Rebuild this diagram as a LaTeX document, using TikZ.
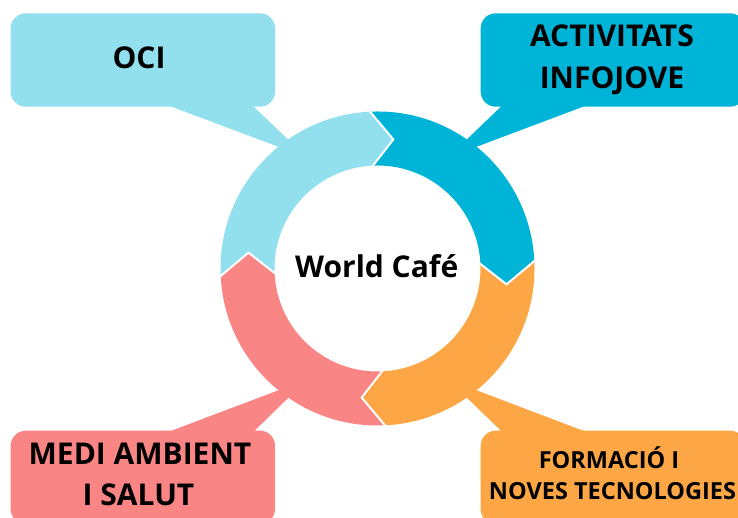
\documentclass[tikz,border=0pt]{standalone}
\usepackage{fontspec}
\setmainfont{Open Sans}
\usetikzlibrary{calc}
\definecolor{cLight}{RGB}{146,224,238}
\definecolor{cDark}{RGB}{0,180,216}
\definecolor{cOrange}{RGB}{252,166,69}
\definecolor{cPink}{RGB}{250,133,133}
\newcommand\ringseg[3]{%
  \fill[#3] (#1:157pt) arc[start angle=#1, end angle=#2, radius=157pt]
    -- ({#2-10}:130pt) -- (#2:103pt)
    arc[start angle=#2, end angle=#1, radius=103pt]
    -- ({#1-10}:130pt) -- cycle;}
\newcommand\ringcut[1]{%
  \draw[cutline] (#1:158pt) -- ({#1-10}:130pt) -- (#1:102pt);}
\begin{document}
\begin{tikzpicture}[x=1pt,y=1pt,
  callbox/.style={rounded corners=15pt, minimum width=264.3pt, minimum height=93.4pt, inner sep=0pt},
  big/.style={font=\bfseries\fontsize{30}{41.6}\selectfont, inner sep=0pt, anchor=base},
  small/.style={font=\bfseries\fontsize{23.5}{31.7}\selectfont, inner sep=0pt, anchor=base},
  cutline/.style={draw=white, line width=2pt, line join=miter, line cap=butt}]
\useasboundingbox (0,0) rectangle (738,518);
\clip (0,0) rectangle (738,518);
\coordinate (C) at (377.5,249.5);

% callout boxes
\node[callbox, fill=cLight] (oci) at (142.85,458) {};
\node[callbox, fill=cDark] (act) at (612.85,458) {};
\node[callbox, fill=cPink] (medi) at (142.85,40.6) {};
\node[callbox, fill=cOrange] (form) at (612.85,40.6) {};

% pointer tips
\coordinate (ociTip) at (307,360.5);
\coordinate (actTip) at (448,360.5);
\coordinate (mediTip) at (307,138.5);
\coordinate (formTip) at (448,138.5);

\fill[cLight] ($(oci.south west)+(156.3,2)$) -- (ociTip) -- ($(oci.south west)+(241.3,2)$) -- cycle;
\fill[cDark] ($(act.south west)+(22.3,2)$) -- (actTip) -- ($(act.south west)+(107.3,2)$) -- cycle;
\fill[cPink] ($(medi.north west)+(156.3,-2)$) -- (mediTip) -- ($(medi.north west)+(242.3,-2)$) -- cycle;
\fill[cOrange] ($(form.north west)+(22.3,-2)$) -- (formTip) -- ($(form.north west)+(107.3,-2)$) -- cycle;

% ring
\begin{scope}[shift={(C)}]
  \ringseg{183}{93}{cLight}
  \ringseg{93}{3}{cDark}
  \ringseg{3}{-87}{cOrange}
  \ringseg{-87}{-177}{cPink}
  \ringcut{93}
  \ringcut{3}
  \ringcut{-87}
  \ringcut{183}
\end{scope}

% texts
\node[big] (wc) at (376.7,240.3) {World Café};
\node[big] (tOci) at (139,449.7) {OCI};
\node[big] (tAct1) at (612,471.3) {ACTIVITATS};
\node[big] (tAct2) at (612,429.7) {INFOJOVE};
\node[big] (tMedi1) at (140,53) {MEDI AMBIENT};
\node[big] (tMedi2) at (138.5,12) {I SALUT};
\node[small] (tForm1) at (609,49.7) {FORMACIÓ I};
\node[small] (tForm2) at (612.5,18) {NOVES TECNOLOGIES};
\end{tikzpicture}
\end{document}
